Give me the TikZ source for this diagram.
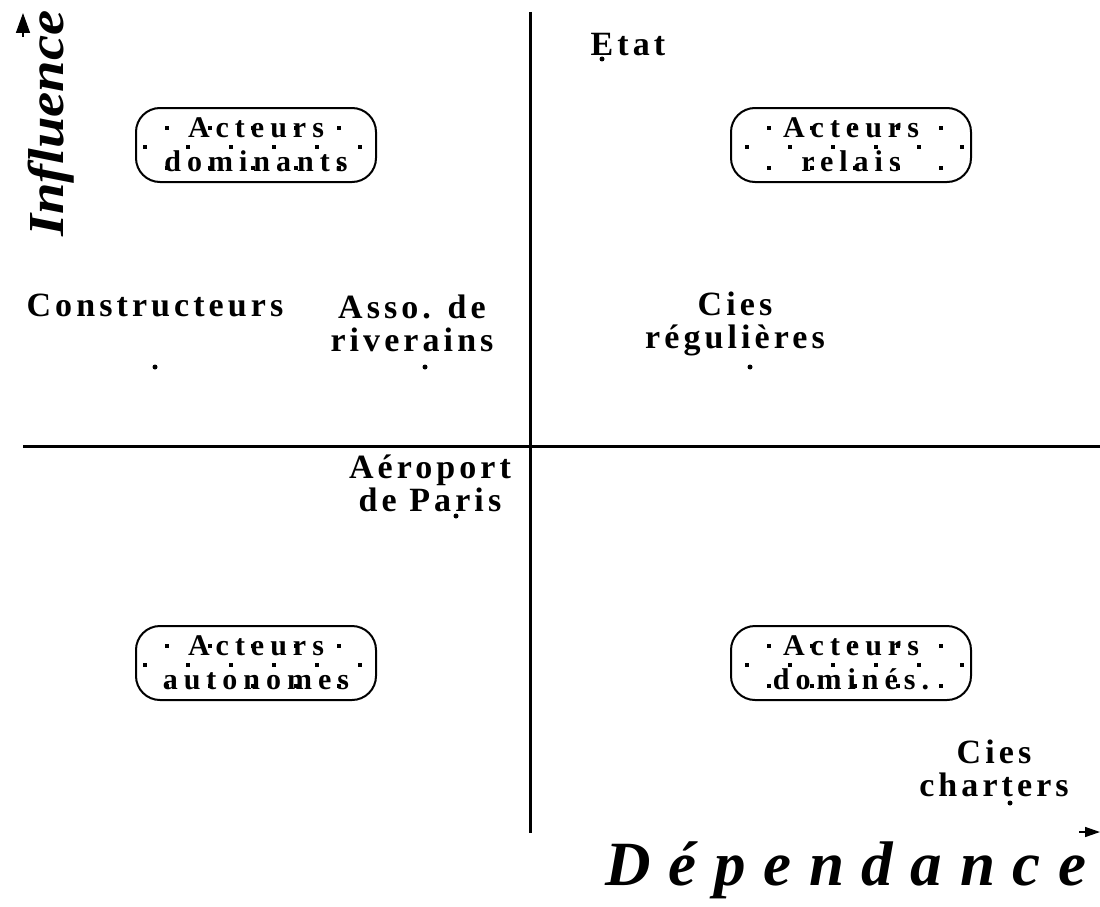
\documentclass[tikz,border=0pt]{standalone}
\usepackage{fontspec}
\setmainfont{Liberation Serif}
\newfontfamily\lblfam[LetterSpace=12]{Liberation Serif}
\newfontfamily\boxfam[LetterSpace=20]{Liberation Serif}
\newfontfamily\bigfam[LetterSpace=28]{Liberation Serif}
\newfontfamily\inflfam[LetterSpace=0]{Liberation Serif}
\usetikzlibrary{arrows.meta}
\newcommand\myBoxDots[2]{%
  \foreach \k in {0,...,4}{%
    \fill ({#1+22+43*\k-1.75},{#2+20-1.75}) rectangle +(3.5,3.5);
    \fill ({#1+22+43*\k-1.75},{#2+60-1.75}) rectangle +(3.5,3.5);
  }
  \foreach \k in {0,...,5}{%
    \fill ({#1+43*\k-1.75},{#2+39-1.75}) rectangle +(3.5,3.5);
  }
}
\begin{document}
\begin{tikzpicture}[x=1pt,y=-1pt,
  axis/.style={line width=3pt},
  actor/.style={draw, line width=2pt, rounded corners=24pt, minimum width=240pt,
    minimum height=74pt, inner sep=0pt, align=center,
    font=\boxfam\bfseries\fontsize{30}{34}\selectfont},
  lbl/.style={inner sep=0pt, align=center, font=\lblfam\bfseries\fontsize{34}{33}\selectfont},
  pt/.style={circle, fill, inner sep=0pt, minimum size=5pt},
  tip/.style={line width=1.5pt}
]
\useasboundingbox (0,0) rectangle (1100,907);
\clip (0,0) rectangle (1100,907);

% axes
\coordinate (vt) at (530,12);
\coordinate (vb) at (530,833);
\coordinate (hl) at (23,446);
\coordinate (hr) at (1100,446);
\draw[axis] (vt) -- (vb);
\draw[axis] (hl) -- (hr);

% axis arrows
\coordinate (ua0) at (23,37);
\coordinate (ua1) at (23,13);
\draw[tip, -{Triangle[length=20pt,width=14pt]}] (ua0) -- (ua1);
\coordinate (ra0) at (1079,832);
\coordinate (ra1) at (1100,832);
\draw[tip, -{Triangle[length=15pt,width=10pt]}] (ra0) -- (ra1);

% axis titles
\node[rotate=90, anchor=base west, inner sep=0pt,
  font=\inflfam\bfseries\itshape\fontsize{48}{48}\selectfont]
  (infl) at (63,237) {\scalebox{1.18}[1.05]{Influence}};
\node[inner sep=0pt, font=\bigfam\bfseries\itshape\fontsize{63}{63}\selectfont]
  (dep) at (846,870) {Dépendance};

% dotted patterns inside boxes
\myBoxDots{145}{108}
\myBoxDots{747}{108}
\myBoxDots{145}{626}
\myBoxDots{747}{626}

% quadrant boxes
\node[actor] (dom) at (256,145) {Acteurs\\dominants};
\node[actor] (rel) at (851,145) {Acteurs\\relais};
\node[actor] (aut) at (256,663) {Acteurs\\autonomes};
\node[actor] (dmn) at (851,663) {Acteurs\\dominés.};

% actors
\node[lbl] (etat) at (628,45) {Etat};
\node[pt] (etatp) at (602,59) {};
\node[lbl] (cons) at (155,305) {Constructeurs};
\node[pt] (consp) at (155,367) {};
\node[lbl] (asso) at (412,323) {Asso. de\\riverains};
\node[pt] (assop) at (425,367) {};
\node[lbl] (creg) at (735,324) {Cies\\régulières};
\node[pt] (cregp) at (750,367) {};
\node[lbl] (adp) at (430,483) {Aéroport\\de Paris};
\node[pt] (adpp) at (456,516) {};
\node[lbl] (cch) at (994,768) {Cies\\charters};
\node[pt] (cchp) at (1010,803) {};
\end{tikzpicture}
\end{document}
